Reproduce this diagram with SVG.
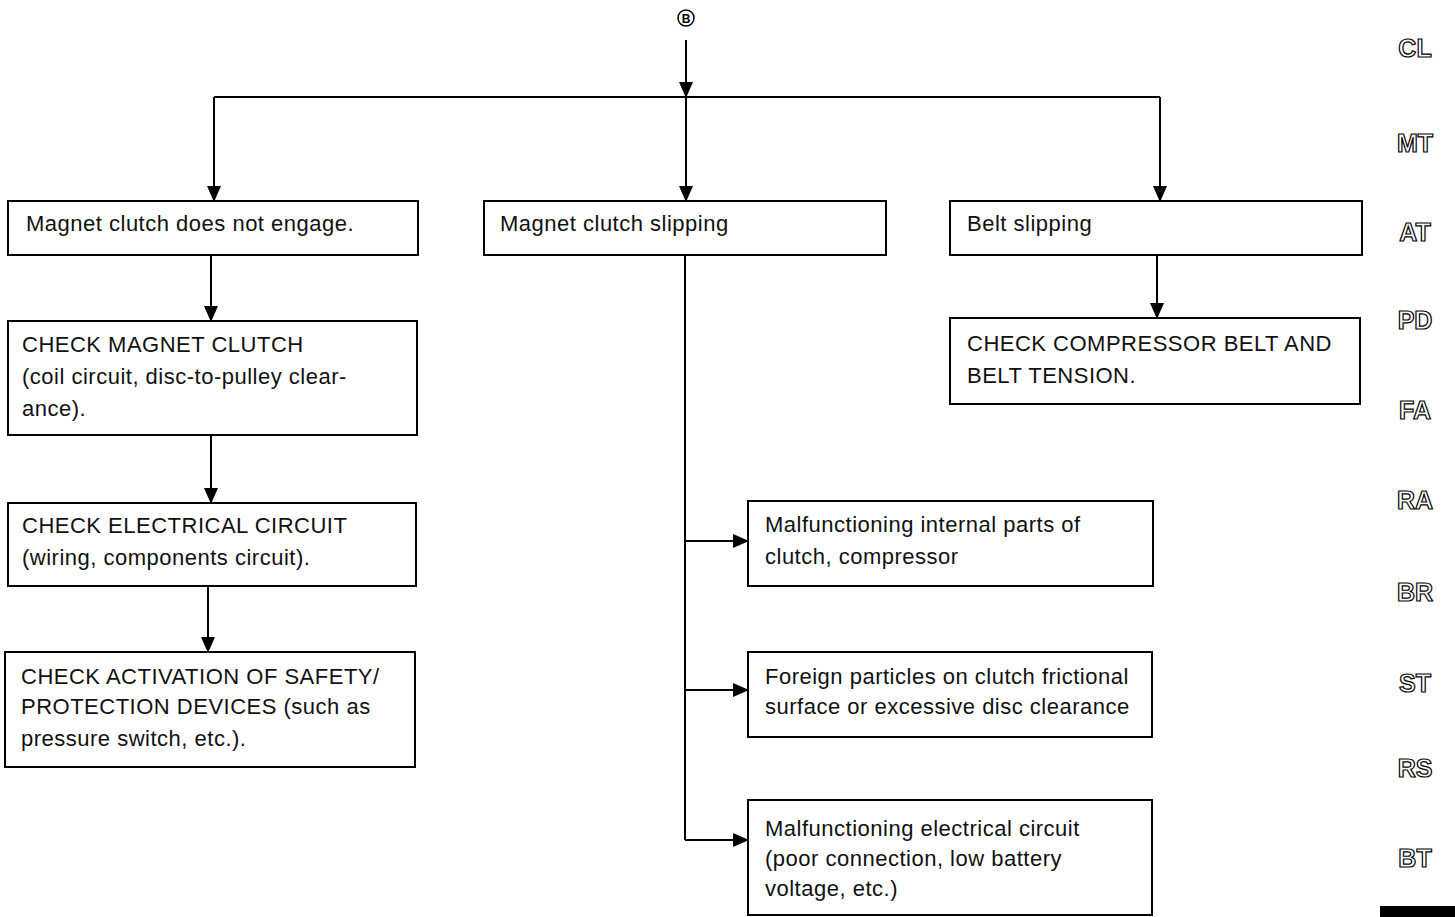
<svg xmlns="http://www.w3.org/2000/svg" width="1455" height="917" viewBox="0 0 1455 917">
<style>
.box{fill:#fff;stroke:#000;stroke-width:2}
.t{font-family:"Liberation Sans",Arial,sans-serif;font-size:22px;letter-spacing:0.5px;fill:#111}
.c{fill:none;stroke:#000;stroke-width:2}
.side{font-family:"Liberation Sans",Arial,sans-serif;font-size:25px;font-weight:bold;fill:#fff;stroke:#000;stroke-width:1.2;text-anchor:middle}
</style>
<defs>
<marker id="ah" markerWidth="16" markerHeight="14" refX="15" refY="7" orient="auto" markerUnits="userSpaceOnUse">
<path d="M0,0 L16,7 L0,14 Z" fill="#000"/>
</marker>
</defs>
<rect width="1455" height="917" fill="#fff"/>
<g id="start">
<circle cx="686" cy="18" r="8" fill="none" stroke="#000" stroke-width="1.5"/>
<text x="686" y="22.5" font-family="Liberation Sans,Arial,sans-serif" font-size="12" font-weight="bold" text-anchor="middle">B</text>
</g>
<g id="connectors">
<path class="c" d="M686,40 V97" marker-end="url(#ah)"/>
<path class="c" d="M214,97 H1160"/>
<path class="c" d="M214,97 V201" marker-end="url(#ah)"/>
<path class="c" d="M686,97 V201" marker-end="url(#ah)"/>
<path class="c" d="M1160,97 V201" marker-end="url(#ah)"/>
<path class="c" d="M211,255 V321" marker-end="url(#ah)"/>
<path class="c" d="M211,435 V503" marker-end="url(#ah)"/>
<path class="c" d="M208,586 V652" marker-end="url(#ah)"/>
<path class="c" d="M1157,255 V318" marker-end="url(#ah)"/>
<path class="c" d="M685,255 V840"/>
<path class="c" d="M685,541 H748" marker-end="url(#ah)"/>
<path class="c" d="M685,690 H748" marker-end="url(#ah)"/>
<path class="c" d="M685,840 H748" marker-end="url(#ah)"/>
</g>
<g id="n1"><rect class="box" x="8" y="201" width="410" height="54"/><text class="t" x="26" y="231">Magnet clutch does not engage.</text></g>
<g id="n2"><rect class="box" x="484" y="201" width="402" height="54"/><text class="t" x="500" y="231">Magnet clutch slipping</text></g>
<g id="n3"><rect class="box" x="950" y="201" width="412" height="54"/><text class="t" x="967" y="231">Belt slipping</text></g>
<g id="n4"><rect class="box" x="8" y="321" width="409" height="114"/>
<text class="t" x="22" y="352">CHECK MAGNET CLUTCH</text>
<text class="t" x="22" y="384">(coil circuit, disc-to-pulley clear-</text>
<text class="t" x="22" y="416">ance).</text></g>
<g id="n5"><rect class="box" x="8" y="503" width="408" height="83"/>
<text class="t" x="22" y="533">CHECK ELECTRICAL CIRCUIT</text>
<text class="t" x="22" y="565">(wiring, components circuit).</text></g>
<g id="n6"><rect class="box" x="5" y="652" width="410" height="115"/>
<text class="t" x="21" y="684">CHECK ACTIVATION OF SAFETY/</text>
<text class="t" x="21" y="714">PROTECTION DEVICES (such as</text>
<text class="t" x="21" y="746">pressure switch, etc.).</text></g>
<g id="n7"><rect class="box" x="950" y="318" width="410" height="86"/>
<text class="t" x="967" y="351">CHECK COMPRESSOR BELT AND</text>
<text class="t" x="967" y="383">BELT TENSION.</text></g>
<g id="n8"><rect class="box" x="748" y="501" width="405" height="85"/>
<text class="t" x="765" y="532">Malfunctioning internal parts of</text>
<text class="t" x="765" y="564">clutch, compressor</text></g>
<g id="n9"><rect class="box" x="748" y="652" width="404" height="85"/>
<text class="t" x="765" y="684">Foreign particles on clutch frictional</text>
<text class="t" x="765" y="714">surface or excessive disc clearance</text></g>
<g id="n10"><rect class="box" x="748" y="800" width="404" height="115"/>
<text class="t" x="765" y="836">Malfunctioning electrical circuit</text>
<text class="t" x="765" y="866">(poor connection, low battery</text>
<text class="t" x="765" y="896">voltage, etc.)</text></g>
<g id="side">
<text class="side" x="1415" y="57">CL</text>
<text class="side" x="1415" y="152">MT</text>
<text class="side" x="1415" y="241">AT</text>
<text class="side" x="1415" y="329">PD</text>
<text class="side" x="1415" y="419">FA</text>
<text class="side" x="1415" y="509">RA</text>
<text class="side" x="1415" y="601">BR</text>
<text class="side" x="1415" y="692">ST</text>
<text class="side" x="1415" y="777">RS</text>
<text class="side" x="1415" y="867">BT</text>
<rect x="1380" y="906" width="75" height="11" fill="#000"/>
</g>
</svg>
